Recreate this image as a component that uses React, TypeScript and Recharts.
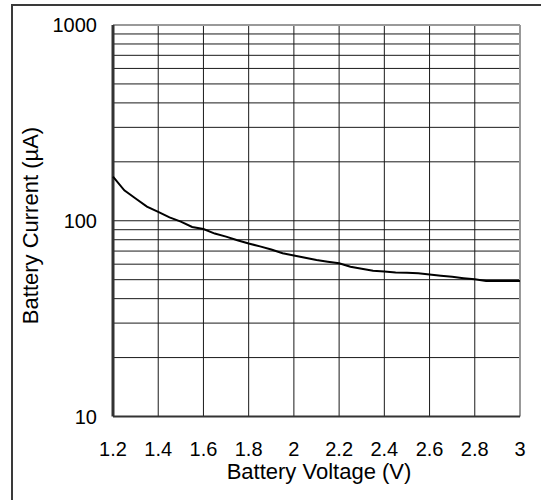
import { LineChart, Line, XAxis, YAxis, ReferenceLine } from 'recharts';

// battery current vs. battery voltage, sampled every 50 mV
const voltage = [
  1.2, 1.25, 1.3, 1.35, 1.4, 1.45, 1.5, 1.55, 1.6, 1.65, 1.7, 1.75, 1.8, 1.85, 1.9, 1.95,
  2.0, 2.05, 2.1, 2.15, 2.2, 2.25, 2.3, 2.35, 2.4, 2.45, 2.5, 2.55, 2.6, 2.65, 2.7, 2.75,
  2.8, 2.85, 2.9, 2.95, 3.0,
];
const currentUA = [
  168, 143, 130, 118, 111, 104, 99, 93, 90.7, 86, 83, 79.5, 76.5, 74, 71.3, 68.3,
  66.5, 64.7, 63, 61.8, 60.7, 58.2, 56.8, 55.5, 55, 54.4, 54.3, 54, 53.2, 52.4, 51.7, 50.9,
  50.2, 49.3, 49.3, 49.3, 49.3,
];

const xTicks = [1.2, 1.4, 1.6, 1.8, 2, 2.2, 2.4, 2.6, 2.8, 3];
const yTicks = [10, 100, 1000];
const xGrid = [1.4, 1.6, 1.8, 2, 2.2, 2.4, 2.6, 2.8];
const yGrid = [20, 30, 40, 50, 60, 70, 80, 90, 100, 200, 300, 400, 500, 600, 700, 800, 900];

const data = voltage.map((v, i) => ({ v, i: currentUA[i] }));

const FONT = '"Liberation Sans", Arial, sans-serif';
const GRID = '#1a1a1a';

export default function App() {
  return (
    <div
      style={{
        position: 'absolute',
        left: 0,
        top: 0,
        width: 541,
        height: 500,
        background: '#fff',
        overflow: 'hidden',
      }}
    >
      {/* outer figure frame, its right/bottom edges run past the crop */}
      <div
        style={{
          position: 'absolute',
          left: 11,
          top: 4,
          width: 540,
          height: 506,
          border: '2px solid #3a3a3a',
          boxSizing: 'border-box',
        }}
      />
      <LineChart
        width={541}
        height={500}
        data={data}
        margin={{ top: 25, right: 21, bottom: 0, left: 0 }}
        style={{ position: 'absolute', left: 0, top: 0, fontFamily: FONT }}
      >
        <XAxis
          dataKey="v"
          type="number"
          domain={[1.2, 3]}
          ticks={xTicks}
          height={83.5}
          axisLine={false}
          tickLine={false}
          tickSize={0}
          tickMargin={25}
          tick={{ fontSize: 20, fill: '#000', fontFamily: FONT }}
          label={{
            content: () => (
              <text x={319} y={479} textAnchor="middle" fontSize={22} fill="#000" fontFamily={FONT}>
                Battery Voltage (V)
              </text>
            ),
          }}
        />
        <YAxis
          type="number"
          scale="log"
          domain={[10, 1000]}
          ticks={yTicks}
          width={113}
          axisLine={false}
          tickLine={false}
          tickSize={0}
          tickMargin={16}
          tick={{ fontSize: 20, fill: '#000', fontFamily: FONT }}
          label={{
            content: () => (
              <text
                x={38}
                y={225.5}
                transform="rotate(-90 38 225.5)"
                textAnchor="middle"
                fontSize={22}
                fill="#000"
                fontFamily={FONT}
              >
                Battery Current (µA)
              </text>
            ),
          }}
        />
        {/* log grid: 2..9 and decade lines */}
        {yGrid.map((g) => (
          <ReferenceLine key={`h${g}`} y={g} stroke={GRID} strokeWidth={1} />
        ))}
        {xGrid.map((g) => (
          <ReferenceLine key={`v${g}`} x={g} stroke={GRID} strokeWidth={1} />
        ))}
        {/* plot frame: grey top/right, dark left/bottom */}
        <ReferenceLine y={1000} stroke="#999" strokeWidth={2} />
        <ReferenceLine x={3} stroke="#999" strokeWidth={2} />
        <ReferenceLine x={1.2} stroke="#333" strokeWidth={3} />
        <ReferenceLine y={10} stroke="#333" strokeWidth={2} />
        <Line
          dataKey="i"
          type="linear"
          stroke="#000"
          strokeWidth={2}
          dot={false}
          isAnimationActive={false}
        />
      </LineChart>
    </div>
  );
}
